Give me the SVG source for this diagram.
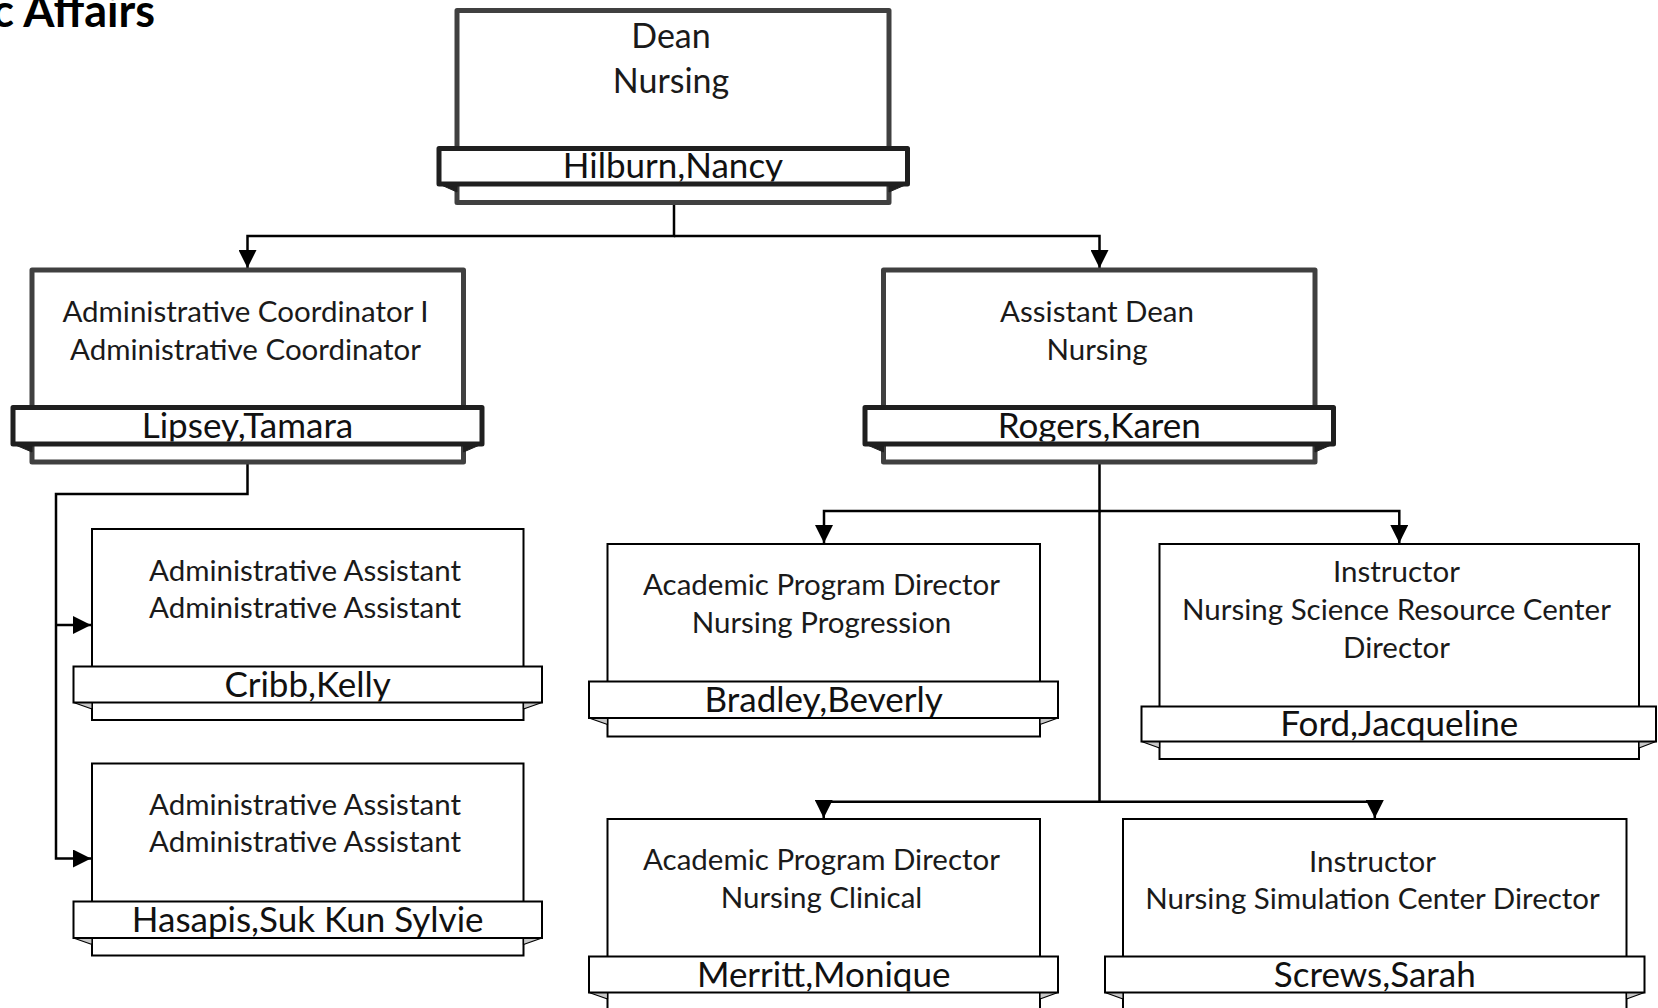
<svg xmlns="http://www.w3.org/2000/svg" width="1658" height="1008" viewBox="0 0 1658 1008">
<style>
.bg{fill:#fff}
.tb{fill:#fff;stroke:#404040;stroke-width:5;stroke-linejoin:round}
.tbar{fill:#fff;stroke:#1f1f1f;stroke-width:5;stroke-linejoin:round}
.tw{fill:#1f1f1f;stroke:#1f1f1f;stroke-width:1;stroke-linejoin:round}
.nb{fill:#fff;stroke:#000;stroke-width:2}
.nw{fill:#c8c8c8;stroke:#000;stroke-width:1.2;stroke-linejoin:round}
.t{font-family:Lato,"Liberation Sans",sans-serif;font-size:29.5px;fill:#1a1a1a;text-anchor:middle}
.n{font-family:Lato,"Liberation Sans",sans-serif;font-size:35px;fill:#111;text-anchor:middle}
.big{font-size:34px}
.hdr{font-family:Lato,"Liberation Sans",sans-serif;font-size:45px;font-weight:bold;fill:#000;text-anchor:end}
.conn{fill:none;stroke:#000;stroke-width:2.5}
</style>
<defs>
<marker id="ah" markerUnits="userSpaceOnUse" markerWidth="18" markerHeight="18" refX="18" refY="9" orient="auto">
<path d="M0,0 L18,9 L0,18 Z" fill="#000"/>
</marker>
<clipPath id="c-dean"><rect x="441.5" y="151" width="463.5" height="30.5"/></clipPath>
<clipPath id="c-lipsey"><rect x="15.5" y="410" width="464" height="31.5"/></clipPath>
<clipPath id="c-rogers"><rect x="867.5" y="410" width="463.5" height="31.5"/></clipPath>
<clipPath id="c-cribb"><rect x="74.5" y="667.5" width="466.5" height="34"/></clipPath>
<clipPath id="c-hasapis"><rect x="74.5" y="902.5" width="466.5" height="34.5"/></clipPath>
<clipPath id="c-bradley"><rect x="590" y="682.5" width="467" height="34.5"/></clipPath>
<clipPath id="c-ford"><rect x="1142.5" y="707.5" width="512.5" height="33"/></clipPath>
<clipPath id="c-merritt"><rect x="590" y="957.5" width="467" height="34"/></clipPath>
<clipPath id="c-screws"><rect x="1106" y="957.5" width="537.5" height="34"/></clipPath>
</defs>
<rect class="bg" x="0" y="0" width="1658" height="1008"/>
<text class="hdr" x="155" y="27">c Affairs</text>

<g id="connectors">
<path class="conn" d="M674,202.5 V236 H247.5 V268" marker-end="url(#ah)"/>
<path class="conn" d="M674,236 H1099.5 V268" marker-end="url(#ah)"/>
<path class="conn" d="M247.5,462 V494 H56 V858.5 H91" marker-end="url(#ah)"/>
<path class="conn" d="M56,625 H91" marker-end="url(#ah)"/>
<path class="conn" d="M1099.5,462 V511 H824 V543" marker-end="url(#ah)"/>
<path class="conn" d="M1099.5,511 H1399.3 V543" marker-end="url(#ah)"/>
<path class="conn" d="M1099.5,511 V801.7 H823.7 V818" marker-end="url(#ah)"/>
<path class="conn" d="M1099.5,801.7 H1374.8 V818" marker-end="url(#ah)"/>
</g>

<g id="node-dean">
<rect class="tb" x="457" y="10.5" width="432" height="192"/>
<polygon class="tw" points="439,184 457,184 457,192"/>
<polygon class="tw" points="907.5,184 889,184 889,192"/>
<rect class="tbar" x="439" y="148.5" width="468.5" height="35.5"/>
<text class="t big" x="671" y="48.3">Dean</text>
<text class="t big" x="671" y="92.5">Nursing</text>
<text class="n" x="673" y="177.5" clip-path="url(#c-dean)">Hilburn,Nancy</text>
</g>

<g id="node-lipsey">
<rect class="tb" x="32" y="270" width="431.5" height="192"/>
<polygon class="tw" points="13,444 32,444 32,452"/>
<polygon class="tw" points="482,444 463.5,444 463.5,452"/>
<rect class="tbar" x="13" y="407.5" width="469" height="36.5"/>
<text class="t" x="245.5" y="321.7">Administrative Coordinator I</text>
<text class="t" x="245.5" y="360">Administrative Coordinator</text>
<text class="n" x="247.5" y="437.5" clip-path="url(#c-lipsey)">Lipsey,Tamara</text>
</g>

<g id="node-rogers">
<rect class="tb" x="883.5" y="270" width="431.5" height="192"/>
<polygon class="tw" points="865,444 883.5,444 883.5,452"/>
<polygon class="tw" points="1333.5,444 1315,444 1315,452"/>
<rect class="tbar" x="865" y="407.5" width="468.5" height="36.5"/>
<text class="t" x="1097" y="321.7">Assistant Dean</text>
<text class="t" x="1097" y="360">Nursing</text>
<text class="n" x="1099.3" y="437.5" clip-path="url(#c-rogers)">Rogers,Karen</text>
</g>

<g id="node-cribb">
<rect class="nb" x="92" y="529" width="431.5" height="191"/>
<polygon class="nw" points="73.5,702.5 92,702.5 92,709"/>
<polygon class="nw" points="542,702.5 523.5,702.5 523.5,709"/>
<rect class="nb" x="73.5" y="666.5" width="468.5" height="36"/>
<text class="t" x="305" y="581">Administrative Assistant</text>
<text class="t" x="305" y="618.3">Administrative Assistant</text>
<text class="n" x="307.7" y="696.5" clip-path="url(#c-cribb)">Cribb,Kelly</text>
</g>

<g id="node-hasapis">
<rect class="nb" x="92" y="763.5" width="431.5" height="192"/>
<polygon class="nw" points="73.5,938 92,938 92,944.5"/>
<polygon class="nw" points="542,938 523.5,938 523.5,944.5"/>
<rect class="nb" x="73.5" y="901.5" width="468.5" height="36.5"/>
<text class="t" x="305" y="815">Administrative Assistant</text>
<text class="t" x="305" y="852">Administrative Assistant</text>
<text class="n" x="307.7" y="931.5" clip-path="url(#c-hasapis)">Hasapis,Suk Kun Sylvie</text>
</g>

<g id="node-bradley">
<rect class="nb" x="607.5" y="544" width="432.5" height="192.5"/>
<polygon class="nw" points="589,718 607.5,718 607.5,724.5"/>
<polygon class="nw" points="1058,718 1040,718 1040,724.5"/>
<rect class="nb" x="589" y="681.5" width="469" height="36.5"/>
<text class="t" x="821.5" y="595">Academic Program Director</text>
<text class="t" x="821.5" y="633.3">Nursing Progression</text>
<text class="n" x="823.7" y="712" clip-path="url(#c-bradley)">Bradley,Beverly</text>
</g>

<g id="node-ford">
<rect class="nb" x="1159.5" y="544" width="479.5" height="215"/>
<polygon class="nw" points="1141.5,741.5 1159.5,741.5 1159.5,748"/>
<polygon class="nw" points="1656,741.5 1639,741.5 1639,748"/>
<rect class="nb" x="1141.5" y="706.5" width="514.5" height="35"/>
<text class="t" x="1396.5" y="581.7">Instructor</text>
<text class="t" x="1396.5" y="620">Nursing Science Resource Center</text>
<text class="t" x="1396.5" y="658.3">Director</text>
<text class="n" x="1399.3" y="735.5" clip-path="url(#c-ford)">Ford,Jacqueline</text>
</g>

<g id="node-merritt">
<rect class="nb" x="607.5" y="819" width="432.5" height="191.5"/>
<polygon class="nw" points="589,992.5 607.5,992.5 607.5,999"/>
<polygon class="nw" points="1058,992.5 1040,992.5 1040,999"/>
<rect class="nb" x="589" y="956.5" width="469" height="36"/>
<text class="t" x="821.5" y="870">Academic Program Director</text>
<text class="t" x="821.5" y="908.3">Nursing Clinical</text>
<text class="n" x="823.7" y="986.5" clip-path="url(#c-merritt)">Merritt,Monique</text>
</g>

<g id="node-screws">
<rect class="nb" x="1123" y="819" width="503.5" height="191.5"/>
<polygon class="nw" points="1105,992.5 1123,992.5 1123,999"/>
<polygon class="nw" points="1644.5,992.5 1626.5,992.5 1626.5,999"/>
<rect class="nb" x="1105" y="956.5" width="539.5" height="36"/>
<text class="t" x="1372.5" y="871.5">Instructor</text>
<text class="t" x="1372.5" y="909.3">Nursing Simulation Center Director</text>
<text class="n" x="1374.8" y="986.5" clip-path="url(#c-screws)">Screws,Sarah</text>
</g>
</svg>
